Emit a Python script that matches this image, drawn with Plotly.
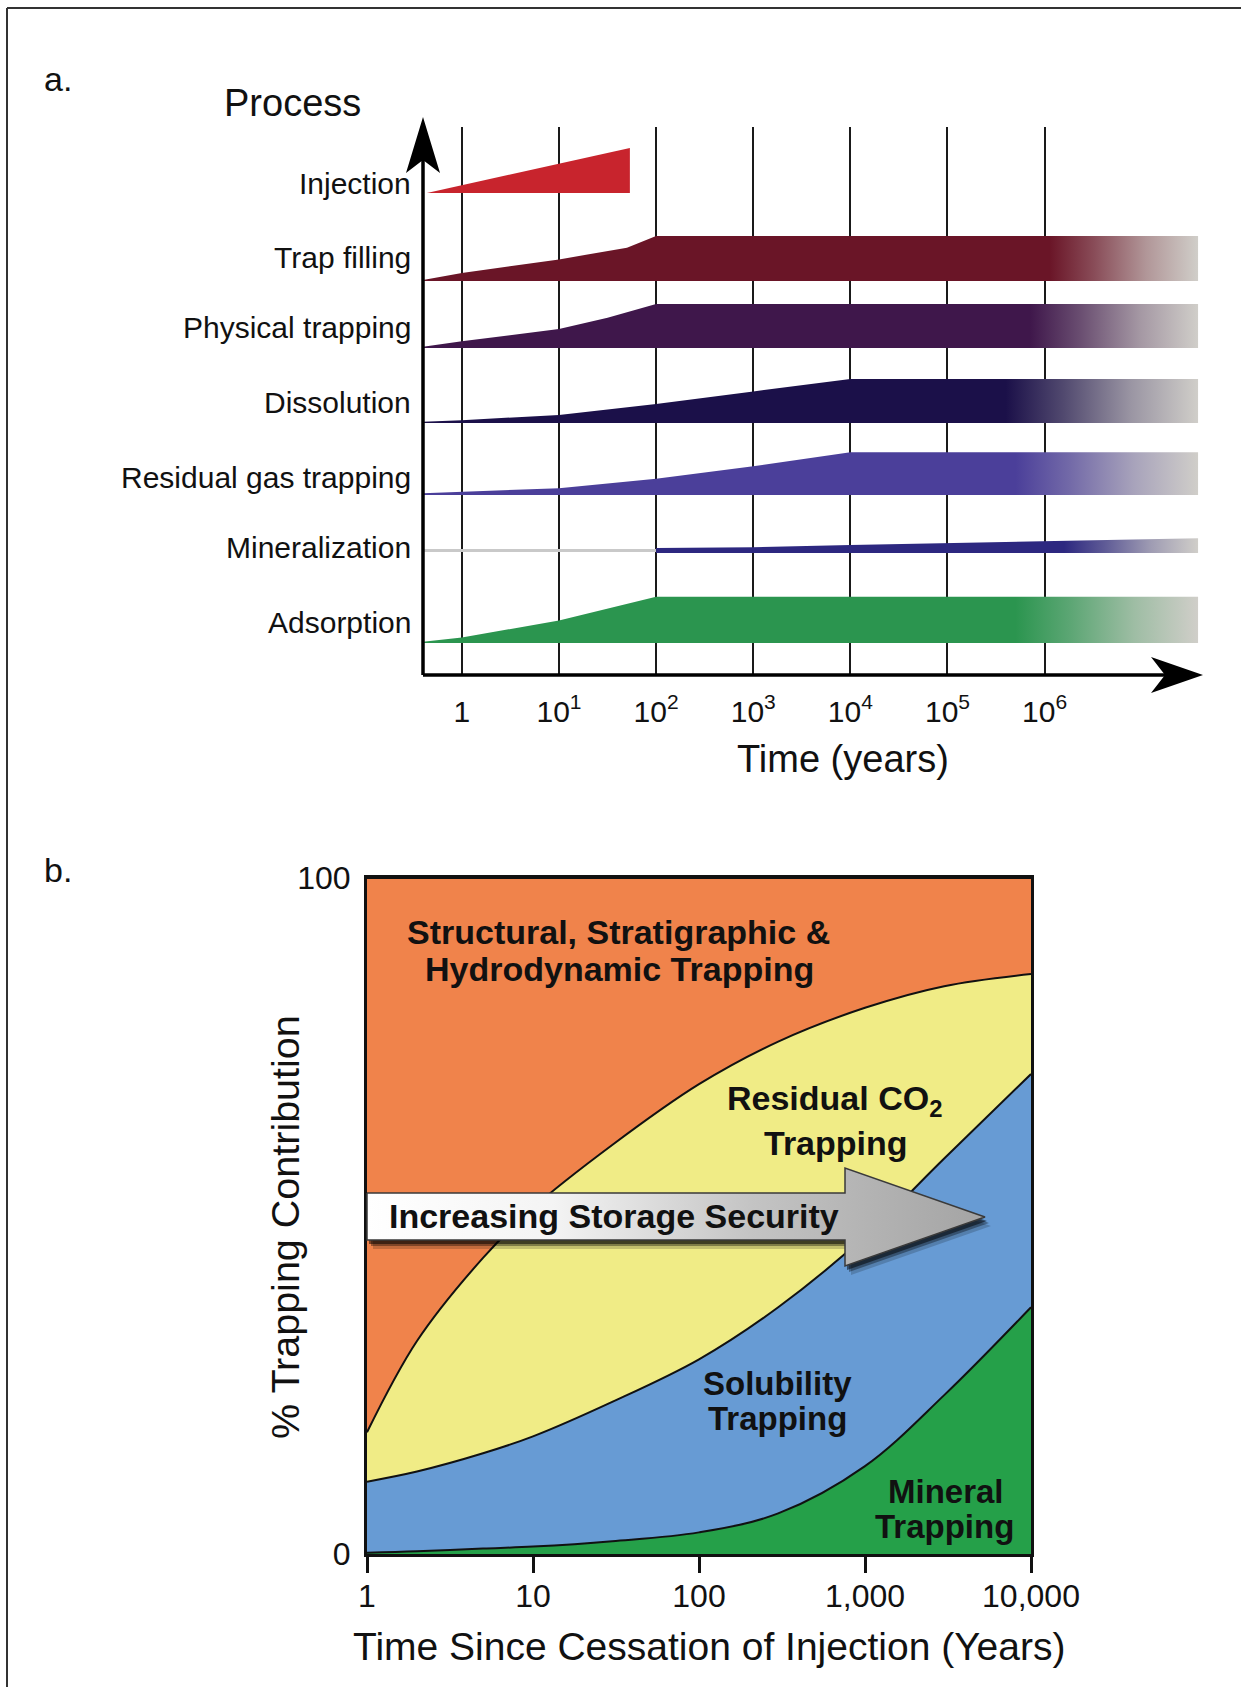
import numpy as np
import plotly.graph_objects as go

W, H = 1241, 1687
FONT = "Liberation Sans, Arial, Helvetica, sans-serif"


def px(x):
    return x / W


def py(y):
    return 1 - y / H


def mix(c1, c2, t):
    a = [int(c1[i:i + 2], 16) for i in (1, 3, 5)]
    b = [int(c2[i:i + 2], 16) for i in (1, 3, 5)]
    return "#" + "".join(f"{round(u + (v - u) * t):02x}" for u, v in zip(a, b))


# ---------------- panel a: time scales of the trapping processes ----------------
processes = ["Injection", "Trap filling", "Physical trapping", "Dissolution",
             "Residual gas trapping", "Mineralization", "Adsorption"]
process_colors = ["#c8242d", "#6a1527", "#3f174b", "#1b1049",
                  "#4b3f9a", "#2d2880", "#2b954f"]

# time as decade exponents (10^n years) and relative process intensity (1 = full band)
inj_exp = [-0.36, 1.73]
inj_int = [0.0, 1.0]
trap_exp = [-0.4, 0, 1, 1.7, 2, 7.58]
trap_int = [0.02, 0.18, 0.48, 0.74, 1.0, 1.0]
phys_exp = [-0.4, 0, 1, 1.5, 2, 7.58]
phys_int = [0.03, 0.15, 0.42, 0.67, 0.98, 0.98]
diss_exp = [-0.4, 0, 1, 2, 3, 4, 7.58]
diss_int = [0.03, 0.06, 0.18, 0.42, 0.70, 0.98, 0.98]
resid_exp = [-0.4, 0, 1, 2, 3, 4, 7.58]
resid_int = [0.04, 0.07, 0.15, 0.36, 0.64, 0.95, 0.95]
miner_exp = [2, 3, 4, 5, 6, 7.58]
miner_int = [0.11, 0.13, 0.18, 0.22, 0.26, 0.33]
adsor_exp = [-0.4, 0, 1, 2, 7.58]
adsor_int = [0.03, 0.12, 0.50, 1.03, 1.03]
# exponent where each long-lived band starts to fade out
fade_from = [None, 6.05, 5.85, 5.6, 5.7, 6.2, 5.7]

decade_ticks = [0, 1, 2, 3, 4, 5, 6]
decade_text = ["1", "10<sup>1</sup>", "10<sup>2</sup>", "10<sup>3</sup>",
               "10<sup>4</sup>", "10<sup>5</sup>", "10<sup>6</sup>"]

# ---------------- panel b: trapping contribution over time ----------------
years = [1, 2, 5, 10, 30, 100, 300, 1000, 3000, 10000]
mineral = [0.2, 0.4, 0.8, 1.1, 1.9, 3.2, 6.0, 13.0, 23.5, 36.5]
solubility = [10.5, 11.8, 14.1, 16.3, 20.6, 25.6, 30.5, 34.0, 35.0, 34.5]
residual = [7.3, 19.3, 28.9, 33.8, 38.0, 40.7, 39.3, 33.8, 25.5, 14.8]
structural = [82.0, 68.5, 56.2, 48.8, 39.5, 30.5, 24.2, 19.2, 16.0, 14.2]
b_ticks = [1, 10, 100, 1000, 10000]
b_ticktext = ["1", "10", "100", "1,000", "10,000"]

# ---------------- layout geometry (pixels) ----------------
A_AXIS_X, A_AXIS_Y, A_TOP = 423, 675, 127
A_RIGHT = 1200
band_base_px = [193, 281, 348, 423, 495, 553, 643]
label_y_px = [183, 257, 328, 402, 477, 548, 622]
BAND_PX = 45
B_L, B_R, B_T, B_B = 367, 1031, 878, 1554

fig = go.Figure()

profiles = [(inj_exp, inj_int), (trap_exp, trap_int), (phys_exp, phys_int),
            (diss_exp, diss_int), (resid_exp, resid_int), (miner_exp, miner_int),
            (adsor_exp, adsor_int)]
FADE = "#d0cec9"

# grey "not yet active" line for mineralization
mb = A_AXIS_Y - band_base_px[5]
fig.add_trace(go.Scatter(x=[-0.4, miner_exp[0]], y=[mb + 2.5, mb + 2.5], mode="lines",
                         line=dict(color="#c9c9c9", width=3), hoverinfo="skip",
                         xaxis="x", yaxis="y"))

for i, (exps, ints) in enumerate(profiles):
    base = A_AXIS_Y - band_base_px[i]
    top = [base + BAND_PX * v for v in ints]
    xs = list(exps) + list(exps)[::-1]
    ys = top + [base] * len(exps)
    kw = {}
    c = process_colors[i]
    if fade_from[i] is not None:
        x0, x1 = exps[0], exps[-1]
        f = (fade_from[i] - x0) / (x1 - x0)
        kw["fillgradient"] = dict(type="horizontal", start=x0, stop=x1,
                                  colorscale=[[0, c], [f, c],
                                              [f + (1 - f) * 0.3, mix(c, FADE, 0.3)],
                                              [f + (1 - f) * 0.65, mix(c, FADE, 0.7)],
                                              [1, FADE]])
    else:
        kw["fillcolor"] = c
    fig.add_trace(go.Scatter(x=xs, y=ys, mode="lines", fill="toself",
                             line=dict(width=0, color=c),
                             hoverinfo="skip", xaxis="x", yaxis="y", **kw))

# ---------------- panel b stacked areas ----------------
b_layers = [("Mineral", mineral, "#25a049"), ("Solubility", solubility, "#679bd4"),
            ("Residual", residual, "#f0ec86"), ("Structural", structural, "#f0834b")]
for name, vals, col in b_layers:
    fig.add_trace(go.Scatter(x=years, y=vals, name=name, stackgroup="b", mode="lines",
                             line=dict(color="#111111", width=2, shape="spline", smoothing=1.0),
                             fillcolor=col, xaxis="x2", yaxis="y2", hoverinfo="skip"))

# ---------------- "Increasing Storage Security" arrow (pixel overlay) ----------------
ax_x = [B_L, 845, 845, 985, 845, 845, B_L, B_L]
ax_y = [1193, 1193, 1168, 1217, 1266, 1240, 1240, 1193]
for dx, dy, a in [(6, 9, 0.18), (4, 6, 0.35), (2, 4, 0.5)]:
    fig.add_trace(go.Scatter(x=[v + dx for v in ax_x], y=[v + dy for v in ax_y],
                             mode="lines", fill="toself", line=dict(width=0),
                             fillcolor=f"rgba(0,0,0,{a})", hoverinfo="skip",
                             xaxis="x3", yaxis="y3"))
fig.add_trace(go.Scatter(x=ax_x, y=ax_y, mode="lines", fill="toself",
                         line=dict(color="#3a3a3a", width=1.5),
                         fillgradient=dict(type="horizontal", start=B_L, stop=985,
                                           colorscale=[[0, "#ffffff"], [0.3, "#f4f4f4"],
                                                       [0.62, "#c4c4c4"], [0.8, "#b4b4b4"],
                                                       [1, "#a4a4a4"]]),
                         hoverinfo="skip", xaxis="x3", yaxis="y3"))

# ---------------- axes ----------------
fig.update_layout(
    width=W, height=H, autosize=False, margin=dict(l=0, r=0, t=0, b=0, pad=0),
    paper_bgcolor="white", plot_bgcolor="rgba(0,0,0,0)", showlegend=False,
    font=dict(family=FONT, color="#111111"),
    xaxis=dict(domain=[px(A_AXIS_X), px(A_RIGHT)], range=[-0.4, 7.6],
               tickvals=decade_ticks, ticktext=decade_text, ticks="",
               tickfont=dict(size=30, color="#111"), ticklabelstandoff=16,
               showgrid=True, gridcolor="#1a1a1a", gridwidth=2, automargin=False,
               zeroline=False, showline=False, fixedrange=True),
    yaxis=dict(domain=[py(A_AXIS_Y), py(A_TOP)], range=[0, A_AXIS_Y - A_TOP],
               visible=False, automargin=False, fixedrange=True),
    xaxis2=dict(domain=[px(B_L), px(B_R)], type="log", range=[0, 4],
                tickvals=b_ticks, ticktext=b_ticktext, ticks="outside", ticklen=16,
                tickwidth=2.5, tickcolor="#111", tickfont=dict(size=32, color="#111"),
                ticklabelstandoff=-4,
                showline=True, linecolor="#111", linewidth=3, mirror=True, automargin=False,
                showgrid=False, zeroline=False, anchor="y2", fixedrange=True),
    yaxis2=dict(domain=[py(B_B), py(B_T)], range=[0, 100], tickvals=[0, 100],
                ticks="", tickfont=dict(size=32, color="#111"), ticklabelstandoff=7,
                showline=True, linecolor="#111", linewidth=3, mirror=True, automargin=False,
                showgrid=False, zeroline=False, anchor="x2", fixedrange=True),
    xaxis3=dict(domain=[0, 1], range=[0, W], visible=False, automargin=False, fixedrange=True),
    yaxis3=dict(domain=[0, 1], range=[H, 0], visible=False, automargin=False, fixedrange=True),
)

# ---------------- decorations: frame and axis arrows of panel a ----------------
shapes = [
    dict(type="line", x0=7, y0=8, x1=W, y1=8, line=dict(color="#333", width=2)),
    dict(type="line", x0=7, y0=8, x1=7, y1=H, line=dict(color="#333", width=2)),
    dict(type="line", x0=A_AXIS_X, y0=A_AXIS_Y, x1=1166, y1=A_AXIS_Y,
         line=dict(color="#000", width=3.5)),
    dict(type="line", x0=A_AXIS_X, y0=A_AXIS_Y, x1=A_AXIS_X, y1=160,
         line=dict(color="#000", width=3.5)),
    dict(type="path", path="M 1203,675 L 1151,657 L 1165,675 L 1151,693 Z",
         fillcolor="#000", line=dict(width=0)),
    dict(type="path", path="M 423,117 L 440,173 L 423,160 L 406,173 Z",
         fillcolor="#000", line=dict(width=0)),
]
for s in shapes:
    s.update(xref="x3", yref="y3", layer="above")
fig.update_layout(shapes=shapes)

# ---------------- text ----------------
ann = []


def text(x, y, s, size, anchor="center", bold=False, angle=0):
    ann.append(dict(x=px(x), y=py(y), xref="paper", yref="paper", text=f"<b>{s}</b>" if bold else s,
                    showarrow=False, xanchor=anchor, yanchor="middle", textangle=angle,
                    font=dict(size=size, family=FONT, color="#111")))


text(42, 79, "a.", 34, "left")
text(42, 870, "b.", 34, "left")
text(292, 103, "Process", 38)
for name, yy in zip(processes, label_y_px):
    text(413, yy, name, 30, "right")
text(843, 759, "Time (years)", 38)

text(618, 932, "Structural, Stratigraphic &", 34, bold=True)
text(619, 969, "Hydrodynamic Trapping", 34, bold=True)
text(834, 1100, "Residual CO<sub>2</sub>", 34, bold=True)
text(836, 1143, "Trapping", 34, bold=True)
text(778, 1383, "Solubility", 33, bold=True)
text(778, 1418, "Trapping", 33, bold=True)
text(946, 1491, "Mineral", 33, bold=True)
text(944, 1526, "Trapping", 33, bold=True)
text(614, 1216, "Increasing Storage Security", 34, bold=True)

text(709, 1646, "Time Since Cessation of Injection (Years)", 39)
text(285, 1227, "% Trapping Contribution", 39.5, angle=-90)

fig.update_layout(annotations=ann)
fig.write_html("out.html", config={"responsive": False, "displayModeBar": False})
